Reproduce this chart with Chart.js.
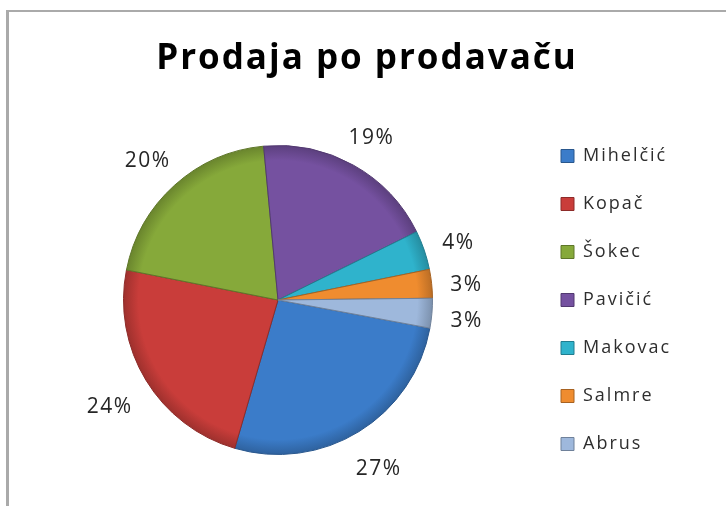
<!DOCTYPE html>
<html>
<head>
<meta charset="utf-8">
<script src="https://cdn.jsdelivr.net/npm/chart.js@4.4.0/dist/chart.umd.min.js"></script>
<style>
html, body { margin: 0; padding: 0; background: #fff; }
#wrap { position: relative; width: 726px; height: 506px; overflow: hidden; background: #fff; }
#frame { position: absolute; left: 6px; top: 10px; width: 800px; height: 600px;
         border-top: 2px solid #aaa; border-left: 3px solid #aaa; }
#pie { position: absolute; left: 0; top: 0; }
</style>
</head>
<body>
<div id="wrap">
  <div id="frame"></div>
  <canvas id="pie" width="726" height="506"></canvas>
</div>
<script>
// prodaja po prodavacu (share of total, %)
const names = ['Mihelčić', 'Kopač', 'Šokec', 'Pavičić', 'Makovac', 'Salmre', 'Abrus'];
const shares = [26.6, 23.6, 20.4, 19.2, 4.1, 3.0, 3.1];
const colors = ['#3b7cc9', '#c93d3a', '#86a93a', '#7551a0', '#2fb3cc', '#ef8c2f', '#9eb8dc'];

function shade(hex, f) {
    let n = parseInt(hex.slice(1), 16);
    let r = n >> 16, g = (n >> 8) & 255, b = n & 255;
    r = Math.min(255, Math.round(r * (1 + f)));
    g = Math.min(255, Math.round(g * (1 + f)));
    b = Math.min(255, Math.round(b * (1 + f)));
    return 'rgb(' + r + ',' + g + ',' + b + ')';
}

function sliceFill(c) {
    const col = colors[c.dataIndex];
    const area = c.chart.chartArea;
    if (!area) return col;
    const cx = (area.left + area.right) / 2, cy = (area.top + area.bottom) / 2;
    const r = Math.min(area.width, area.height) / 2;
    const g = c.chart.ctx.createRadialGradient(cx, cy, 0, cx, cy, r);
    g.addColorStop(0, col);
    g.addColorStop(0.9, col);
    g.addColorStop(1, shade(col, -0.22));
    return g;
}

// fixed legend width, legend centred on the pie, wider letter spacing like the excel picture
const tweaks = {
    id: 'tweaks',
    beforeInit(chart) {
        const lg = chart.legend;
        if (lg) {
            const fit = lg.fit;
            lg.fit = function() {
                fit.call(this);
                this.width = 178;
            };
            const draw = lg.draw;
            lg.draw = function() {
                const c = this.ctx, area = this.chart.chartArea;
                const dy = ((area.top + area.bottom) - (this.top + this.bottom)) / 2;
                c.save();
                c.translate(0, dy);
                c.letterSpacing = '2px';
                draw.apply(this, arguments);
                c.restore();
            };
        }
        const tb = chart.titleBlock;
        if (tb) {
            const tdraw = tb.draw;
            tb.draw = function() {
                this.ctx.save();
                this.ctx.letterSpacing = '2px';
                tdraw.apply(this, arguments);
                this.ctx.restore();
            };
        }
    }
};

// percent labels outside the slices
const pctLabels = {
    id: 'pctLabels',
    afterDatasetsDraw(chart) {
        const ctx = chart.ctx;
        const meta = chart.getDatasetMeta(0);
        const total = shares.reduce((a, b) => a + b, 0);
        ctx.save();
        ctx.font = '21px "Open Sans"';
        ctx.letterSpacing = '1.5px';
        ctx.fillStyle = '#262626';
        ctx.textAlign = 'center';
        ctx.textBaseline = 'middle';
        meta.data.forEach(function(arc, i) {
            const txt = Math.round(shares[i] / total * 100) + '%';
            const w = ctx.measureText(txt).width, h = 18;
            const mid = (arc.startAngle + arc.endAngle) / 2;
            const cs = Math.cos(mid), sn = Math.sin(mid);
            const r = arc.outerRadius + 18 + Math.abs(cs) * w / 2 + Math.abs(sn) * h / 2;
            ctx.fillText(txt, arc.x + cs * r, arc.y + sn * r + 5);
        });
        ctx.restore();
    }
};

const ctx = document.getElementById('pie');
new Chart(ctx, {
    type: 'pie',
    data: {
        labels: names,
        datasets: [{
            data: shares,
            backgroundColor: sliceFill,
            borderColor: colors.map(c => shade(c, -0.3)),
            borderWidth: 1
        }]
    },
    plugins: [tweaks, pctLabels],
    options: {
        responsive: false,
        animation: false,
        rotation: 100.5,
        layout: { padding: { left: 25, right: 17, top: 10, bottom: 51 } },
        plugins: {
            title: {
                display: true,
                text: 'Prodaja po prodavaču',
                color: '#000',
                font: { family: 'Open Sans', size: 35, weight: 'bold' },
                padding: { top: 28, bottom: 65 }
            },
            legend: {
                position: 'right',
                labels: {
                    boxWidth: 13,
                    boxHeight: 13,
                    padding: 30,
                    color: '#2e2e2e',
                    font: { family: 'Open Sans', size: 18 },
                    generateLabels(chart) {
                        const items = Chart.overrides.pie.plugins.legend.labels.generateLabels(chart);
                        items.forEach(function(it, i) {
                            it.fillStyle = colors[i];
                            it.strokeStyle = shade(colors[i], -0.3);
                            it.lineWidth = 1;
                        });
                        return items;
                    }
                }
            },
            tooltip: { enabled: false }
        }
    }
});
</script>
</body>
</html>
